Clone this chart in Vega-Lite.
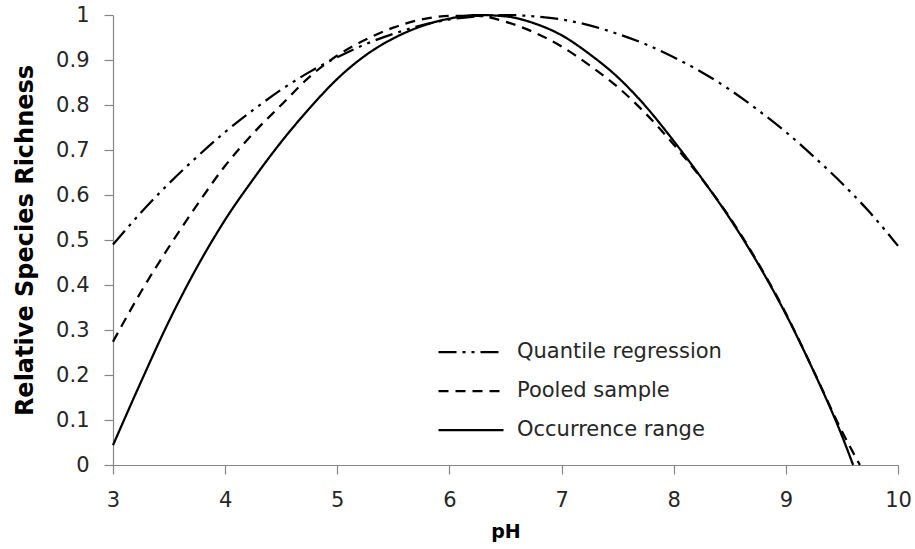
{
  "$schema": "https://vega.github.io/schema/vega-lite/v6.json",
  "autosize": "none",
  "padding": {"left": 113, "top": 15, "right": 17, "bottom": 84},
  "width": 785,
  "height": 450,
  "background": "white",
  "config": {
    "view": {"stroke": null},
    "font": "DejaVu Sans"
  },
  "datasets": {
    "curves": [
      {"pH": 3, "value": 0.49, "series": "Quantile regression"},
      {"pH": 3.25, "value": 0.561, "series": "Quantile regression"},
      {"pH": 3.5, "value": 0.626, "series": "Quantile regression"},
      {"pH": 3.75, "value": 0.685, "series": "Quantile regression"},
      {"pH": 4, "value": 0.74, "series": "Quantile regression"},
      {"pH": 4.25, "value": 0.789, "series": "Quantile regression"},
      {"pH": 4.5, "value": 0.834, "series": "Quantile regression"},
      {"pH": 4.75, "value": 0.873, "series": "Quantile regression"},
      {"pH": 5, "value": 0.906, "series": "Quantile regression"},
      {"pH": 5.25, "value": 0.935, "series": "Quantile regression"},
      {"pH": 5.5, "value": 0.958, "series": "Quantile regression"},
      {"pH": 5.75, "value": 0.977, "series": "Quantile regression"},
      {"pH": 6, "value": 0.99, "series": "Quantile regression"},
      {"pH": 6.25, "value": 0.997, "series": "Quantile regression"},
      {"pH": 6.5, "value": 1.0, "series": "Quantile regression"},
      {"pH": 6.75, "value": 0.997, "series": "Quantile regression"},
      {"pH": 7, "value": 0.99, "series": "Quantile regression"},
      {"pH": 7.25, "value": 0.977, "series": "Quantile regression"},
      {"pH": 7.5, "value": 0.958, "series": "Quantile regression"},
      {"pH": 7.75, "value": 0.935, "series": "Quantile regression"},
      {"pH": 8, "value": 0.906, "series": "Quantile regression"},
      {"pH": 8.25, "value": 0.873, "series": "Quantile regression"},
      {"pH": 8.5, "value": 0.834, "series": "Quantile regression"},
      {"pH": 8.75, "value": 0.789, "series": "Quantile regression"},
      {"pH": 9, "value": 0.74, "series": "Quantile regression"},
      {"pH": 9.25, "value": 0.685, "series": "Quantile regression"},
      {"pH": 9.5, "value": 0.626, "series": "Quantile regression"},
      {"pH": 9.75, "value": 0.561, "series": "Quantile regression"},
      {"pH": 10, "value": 0.487, "series": "Quantile regression"},

      {"pH": 3, "value": 0.274, "series": "Pooled sample"},
      {"pH": 3.25, "value": 0.385, "series": "Pooled sample"},
      {"pH": 3.5, "value": 0.485, "series": "Pooled sample"},
      {"pH": 3.75, "value": 0.578, "series": "Pooled sample"},
      {"pH": 4, "value": 0.665, "series": "Pooled sample"},
      {"pH": 4.25, "value": 0.737, "series": "Pooled sample"},
      {"pH": 4.5, "value": 0.8, "series": "Pooled sample"},
      {"pH": 4.75, "value": 0.862, "series": "Pooled sample"},
      {"pH": 5, "value": 0.91, "series": "Pooled sample"},
      {"pH": 5.25, "value": 0.945, "series": "Pooled sample"},
      {"pH": 5.5, "value": 0.972, "series": "Pooled sample"},
      {"pH": 5.75, "value": 0.99, "series": "Pooled sample"},
      {"pH": 6, "value": 0.998, "series": "Pooled sample"},
      {"pH": 6.25, "value": 0.998, "series": "Pooled sample"},
      {"pH": 6.5, "value": 0.985, "series": "Pooled sample"},
      {"pH": 6.75, "value": 0.962, "series": "Pooled sample"},
      {"pH": 7, "value": 0.93, "series": "Pooled sample"},
      {"pH": 7.25, "value": 0.888, "series": "Pooled sample"},
      {"pH": 7.5, "value": 0.84, "series": "Pooled sample"},
      {"pH": 7.75, "value": 0.781, "series": "Pooled sample"},
      {"pH": 8, "value": 0.712, "series": "Pooled sample"},
      {"pH": 8.25, "value": 0.636, "series": "Pooled sample"},
      {"pH": 8.5, "value": 0.55, "series": "Pooled sample"},
      {"pH": 8.75, "value": 0.45, "series": "Pooled sample"},
      {"pH": 9, "value": 0.337, "series": "Pooled sample"},
      {"pH": 9.25, "value": 0.208, "series": "Pooled sample"},
      {"pH": 9.5, "value": 0.075, "series": "Pooled sample"},
      {"pH": 9.66, "value": 0, "series": "Pooled sample"},

      {"pH": 3, "value": 0.044, "series": "Occurrence range"},
      {"pH": 3.25, "value": 0.185, "series": "Occurrence range"},
      {"pH": 3.5, "value": 0.32, "series": "Occurrence range"},
      {"pH": 3.75, "value": 0.44, "series": "Occurrence range"},
      {"pH": 4, "value": 0.545, "series": "Occurrence range"},
      {"pH": 4.25, "value": 0.635, "series": "Occurrence range"},
      {"pH": 4.5, "value": 0.718, "series": "Occurrence range"},
      {"pH": 4.75, "value": 0.792, "series": "Occurrence range"},
      {"pH": 5, "value": 0.858, "series": "Occurrence range"},
      {"pH": 5.25, "value": 0.91, "series": "Occurrence range"},
      {"pH": 5.5, "value": 0.948, "series": "Occurrence range"},
      {"pH": 5.75, "value": 0.975, "series": "Occurrence range"},
      {"pH": 6, "value": 0.992, "series": "Occurrence range"},
      {"pH": 6.25, "value": 1.0, "series": "Occurrence range"},
      {"pH": 6.5, "value": 0.997, "series": "Occurrence range"},
      {"pH": 6.75, "value": 0.982, "series": "Occurrence range"},
      {"pH": 7, "value": 0.955, "series": "Occurrence range"},
      {"pH": 7.25, "value": 0.913, "series": "Occurrence range"},
      {"pH": 7.5, "value": 0.862, "series": "Occurrence range"},
      {"pH": 7.75, "value": 0.797, "series": "Occurrence range"},
      {"pH": 8, "value": 0.72, "series": "Occurrence range"},
      {"pH": 8.25, "value": 0.637, "series": "Occurrence range"},
      {"pH": 8.5, "value": 0.548, "series": "Occurrence range"},
      {"pH": 8.75, "value": 0.448, "series": "Occurrence range"},
      {"pH": 9, "value": 0.335, "series": "Occurrence range"},
      {"pH": 9.25, "value": 0.207, "series": "Occurrence range"},
      {"pH": 9.5, "value": 0.065, "series": "Occurrence range"},
      {"pH": 9.6, "value": 0, "series": "Occurrence range"}
    ]
  },
  "data": {"name": "curves"},
  "mark": {"type": "line", "color": "black", "strokeWidth": 2.25, "interpolate": "monotone"},
  "encoding": {
    "x": {
      "field": "pH", "type": "quantitative",
      "scale": {"domain": [3, 10], "nice": false, "zero": false},
      "axis": {
        "title": "pH",
        "values": [3, 4, 5, 6, 7, 8, 9, 10],
        "grid": false,
        "domainColor": "#868686", "tickColor": "#868686",
        "tickSize": 9, "domainWidth": 1.2, "tickWidth": 1.2,
        "labelFont": "DejaVu Sans", "labelFontSize": 21, "labelColor": "#262626",
        "labelPadding": 15, "labelFlush": false,
        "titleFont": "DejaVu Sans", "titleFontSize": 19, "titleFontWeight": "bold", "titleColor": "#000000",
        "titlePadding": 12
      }
    },
    "y": {
      "field": "value", "type": "quantitative",
      "scale": {"domain": [0, 1], "nice": false},
      "axis": {
        "title": "Relative Species Richness",
        "values": [0, 0.1, 0.2, 0.3, 0.4, 0.5, 0.6, 0.7, 0.8, 0.9, 1],
        "format": ".1~f",
        "grid": false,
        "domainColor": "#868686", "tickColor": "#868686",
        "tickSize": 9, "domainWidth": 1.2, "tickWidth": 1.2,
        "labelFont": "DejaVu Sans", "labelFontSize": 21, "labelColor": "#262626",
        "labelPadding": 15, "labelFlush": false,
        "titleFont": "DejaVu Sans", "titleFontSize": 24, "titleFontWeight": "bold", "titleColor": "#000000",
        "titlePadding": 18
      }
    },
    "strokeDash": {
      "field": "series", "type": "nominal",
      "scale": {
        "domain": ["Quantile regression", "Pooled sample", "Occurrence range"],
        "range": [[18, 6, 3, 6, 3, 6], [10, 7], [1, 0]]
      },
      "legend": {
        "title": null,
        "orient": "none",
        "legendX": 324,
        "legendY": 327,
        "symbolType": "stroke",
        "symbolSize": 4225,
        "symbolStrokeWidth": 2.25,
        "symbolStrokeColor": "black",
        "clipHeight": 20,
        "rowPadding": 18,
        "labelOffset": 12,
        "labelFont": "DejaVu Sans",
        "labelFontSize": 21,
        "labelColor": "#262626",
        "labelLimit": 400
      }
    }
  }
}
